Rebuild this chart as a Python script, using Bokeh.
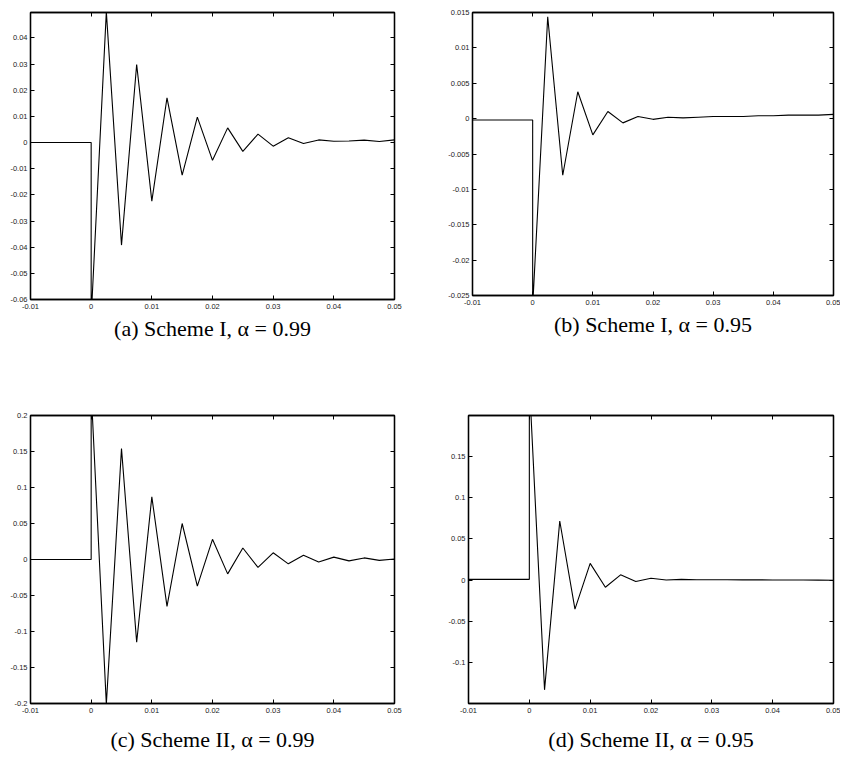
from bokeh.plotting import figure
from bokeh.layouts import column, row
from bokeh.models import Range1d, FixedTicker, LinearAxis, CustomJSTickFormatter, Title
from bokeh.embed import file_html
from bokeh.resources import INLINE

# ---------------- data ----------------
t_pre = [-0.01, 0.0]
t = [0.0, 0.0025, 0.005, 0.0075, 0.01, 0.0125, 0.015, 0.0175, 0.02, 0.0225, 0.025,
     0.0275, 0.03, 0.0325, 0.035, 0.0375, 0.04, 0.0425, 0.045, 0.0475, 0.05]

# (a) Scheme I, alpha = 0.99
a_pre = [0.0, 0.0]
a_vals = [-0.067, 0.050, -0.0392, 0.0298, -0.0224, 0.0171, -0.0125, 0.0097, -0.0068, 0.0056,
          -0.0034, 0.0032, -0.0014, 0.0018, -0.0004, 0.0010, 0.0005, 0.0006, 0.0009, 0.0004, 0.0010]

# (b) Scheme I, alpha = 0.95
b_pre = [-0.0002, -0.0002]
b_vals = [-0.0266, 0.0144, -0.0080, 0.0038, -0.0023, 0.0010, -0.0006, 0.0003, -0.0001, 0.0002,
          0.0001, 0.0002, 0.0003, 0.0003, 0.0003, 0.0004, 0.0004, 0.0005, 0.0005, 0.0005, 0.0006]

# (c) Scheme II, alpha = 0.99
c_pre = [0.0, 0.0]
c_vals = [0.235, -0.201, 0.154, -0.115, 0.087, -0.065, 0.050, -0.037, 0.028, -0.020,
          0.016, -0.011, 0.0093, -0.006, 0.006, -0.0035, 0.0033, -0.0019, 0.0022, -0.0012, 0.0007]

# (d) Scheme II, alpha = 0.95
d_pre = [0.001, 0.001]
d_vals = [0.24, -0.1325, 0.0715, -0.035, 0.0203, -0.0085, 0.0065, -0.0016, 0.0024, 0.0003,
          0.0010, 0.0005, 0.0005, 0.0005, 0.0004, 0.0004, 0.0003, 0.0003, 0.0002, 0.0001, 0.0]

x_ticks = [-0.01, 0, 0.01, 0.02, 0.03, 0.04, 0.05]
x_labels = ["-0.01", "0", "0.01", "0.02", "0.03", "0.04", "0.05"]

a_yticks = [-0.06, -0.05, -0.04, -0.03, -0.02, -0.01, 0, 0.01, 0.02, 0.03, 0.04]
a_ylabels = ["-0.06", "-0.05", "-0.04", "-0.03", "-0.02", "-0.01", "0", "0.01", "0.02", "0.03", "0.04"]
b_yticks = [-0.025, -0.02, -0.015, -0.01, -0.005, 0, 0.005, 0.01, 0.015]
b_ylabels = ["-0.025", "-0.02", "-0.015", "-0.01", "-0.005", "0", "0.005", "0.01", "0.015"]
c_yticks = [-0.2, -0.15, -0.1, -0.05, 0, 0.05, 0.1, 0.15, 0.2]
c_ylabels = ["-0.2", "-0.15", "-0.1", "-0.05", "0", "0.05", "0.1", "0.15", "0.2"]
d_yticks = [-0.1, -0.05, 0, 0.05, 0.1, 0.15]
d_ylabels = ["-0.1", "-0.05", "0", "0.05", "0.1", "0.15"]

captions = ["(a) Scheme I, α = 0.99", "(b) Scheme I, α = 0.95",
            "(c) Scheme II, α = 0.99", "(d) Scheme II, α = 0.95"]

TICK_FONT = "Liberation Sans"
CAP_FONT = "Liberation Serif"


def style_axis(ax, ticks, labels, show_labels, standoff):
    ax.ticker = FixedTicker(ticks=ticks)
    ax.major_tick_in = 4
    ax.major_tick_out = 0
    ax.minor_tick_line_color = None
    ax.major_tick_line_color = "black"
    ax.major_tick_line_width = 1
    ax.axis_line_color = "black"
    ax.axis_line_width = 1.3
    ax.major_label_text_font = TICK_FONT
    ax.major_label_text_color = "#222222"
    ax.major_label_standoff = standoff
    if show_labels:
        ax.major_label_overrides = dict(zip(ticks, labels))
        ax.major_label_text_font_size = "7.5px"
    else:
        ax.formatter = CustomJSTickFormatter(code="return ''")
        ax.major_label_text_font_size = "1px"


def panel(pre, vals, yr, yticks, ylabels, caption, cap_standoff,
          bl, br, bt, bb, fw, fh):
    p = figure(frame_width=fw, frame_height=fh,
               x_range=Range1d(-0.01, 0.05), y_range=Range1d(yr[0], yr[1]),
               output_backend="svg", toolbar_location=None,
               min_border_left=bl, min_border_right=br,
               min_border_top=bt, min_border_bottom=bb)
    p.xgrid.visible = False
    p.ygrid.visible = False
    p.outline_line_color = "black"
    p.outline_line_width = 1.3
    p.background_fill_color = "white"
    p.border_fill_color = "white"

    p.line(t_pre + t, pre + vals, line_color="black", line_width=1.1)

    style_axis(p.xaxis[0], x_ticks, x_labels, True, 4)
    style_axis(p.yaxis[0], yticks, ylabels, True, 3)

    top = LinearAxis()
    style_axis(top, x_ticks, x_labels, False, 0)
    p.add_layout(top, "above")
    right = LinearAxis()
    style_axis(right, yticks, ylabels, False, 0)
    p.add_layout(right, "right")

    cap = Title(text=caption, align="center",
                text_font=CAP_FONT, text_font_size="22px", text_font_style="normal",
                text_color="black", standoff=cap_standoff)
    p.add_layout(cap, "below")
    return p


pa = panel(a_pre, a_vals, (-0.06, 0.0497), a_yticks, a_ylabels, captions[0], 4,
           30, 26, 8, 110, 364, 287)
pb = panel(b_pre, b_vals, (-0.025, 0.015), b_yticks, b_ylabels, captions[1], 4,
           52, 7, 12, 110, 361, 283)
pc = panel(c_pre, c_vals, (-0.2, 0.2), c_yticks, c_ylabels, captions[2], 18,
           30, 26, 10, 58, 364, 288)
pd = panel(d_pre, d_vals, (-0.149, 0.199), d_yticks, d_ylabels, captions[3], 18,
           48, 7, 10, 58, 365, 288)

layout = column(row(pa, pb), row(pc, pd))

open("out.html", "w").write(file_html(layout, INLINE))
